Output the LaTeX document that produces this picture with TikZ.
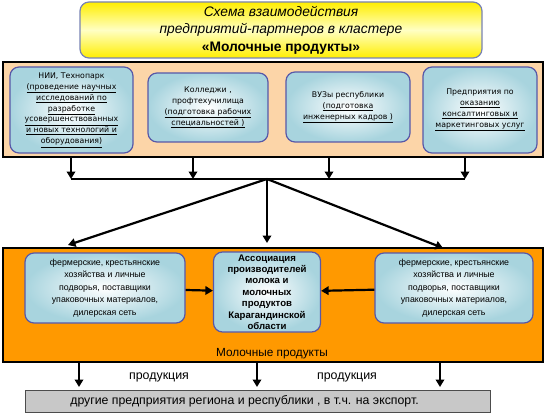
\documentclass[tikz,border=0pt]{standalone}
\usepackage{fontspec}
\setmainfont{Liberation Sans}
\newfontfamily\tahomaish{DejaVu Sans}
\usetikzlibrary{arrows.meta}

\definecolor{peach}{RGB}{252,213,168}
\definecolor{milkorange}{RGB}{255,153,0}
\definecolor{boxblue}{RGB}{88,88,168}
\definecolor{boxcyan}{RGB}{168,212,222}
\definecolor{titleyellow}{RGB}{255,238,0}
\definecolor{titlelight}{RGB}{255,255,196}
\definecolor{titleedge}{RGB}{120,130,180}
\definecolor{exportgray}{RGB}{200,200,200}

\tikzset{
  partner/.style={draw=boxblue, line width=1.2pt, rounded corners=9pt,
    inner color=white, outer color=boxcyan, align=center, inner sep=2pt},
  frame/.style={draw=black, line width=2pt},
  flow/.style={-{Triangle[width=8.5pt,length=7.5pt]}, line width=2.2pt},
  small/.style={font=\tahomaish\fontsize{7.8}{10.9}\selectfont},
  middle/.style={font=\fontsize{8.8}{12.6}\selectfont}
}

\begin{document}
\begin{tikzpicture}[x=1pt, y=-1pt]
  \useasboundingbox (0,0) rectangle (545,414);

  % Title
  \node[draw=titleedge, line width=1.2pt, rounded corners=9pt,
        top color=titleyellow, bottom color=titleyellow, middle color=titlelight,
        minimum width=402pt, minimum height=56pt, align=center,
        font=\fontsize{13.8}{17.6}\selectfont] (title) at (281,30)
    {\textit{Схема взаимодействия}\\ \textit{предприятий-партнеров в кластере}\\ \textbf{«Молочные продукты»}};

  % Partner frame
  \node[frame, fill=peach, minimum width=540pt, minimum height=95pt] (top) at (273,109.5) {};
  \node[partner, small, minimum width=123pt, minimum height=86pt] (nii) at (71.5,110)
    {НИИ, Технопарк\\ \underline{(проведение научных}\\ \underline{исследований по}\\ \underline{разработке}\\
     \underline{усовершенствованных}\\ \underline{и новых технологий и}\\ \underline{оборудования)}};
  \node[partner, small, minimum width=120pt, minimum height=69pt] (college) at (208,107.5)
    {Колледжи ,\\ профтехучилища\\ \underline{(подготовка рабочих}\\ \underline{специальностей )}};
  \node[partner, small, minimum width=124pt, minimum height=70pt] (vuz) at (348,107)
    {ВУЗы республики\\ \underline{(подготовка}\\ \underline{инженерных кадров )}};
  \node[partner, small, minimum width=114pt, minimum height=86pt] (consult) at (480,110)
    {Предприятия по\\ \underline{оказанию}\\ \underline{консалтинговых и}\\ \underline{маркетинговых услуг}};

  % Collector bar
  \coordinate (j1) at (71,179);
  \coordinate (j2) at (193,179);
  \coordinate (j3) at (329,179);
  \coordinate (j4) at (465,179);
  \coordinate (hub) at (267,179);
  \foreach \j in {j1,j2,j3,j4}
    \draw[flow] (top.south -| \j) -- (\j);
  \draw[line width=2.2pt] (j1) -- (j4);

  % Cluster frame
  \node[frame, fill=milkorange, minimum width=540pt, minimum height=114pt] (cluster) at (273,305) {};
  \node[partner, middle, minimum width=160pt, minimum height=70pt] (farmL) at (105,288)
    {фермерские, крестьянские\\ хозяйства и личные\\ подворья, поставщики\\ упаковочных материалов,\\ дилерская сеть};
  \node[partner, minimum width=107pt, minimum height=80pt,
        font=\fontsize{9.6}{11.4}\selectfont\bfseries] (assoc) at (267,292)
    {Ассоциация\\ производителей\\ молока и\\ молочных\\ продуктов\\ Карагандинской\\ области};
  \node[partner, middle, minimum width=158pt, minimum height=70pt] (farmR) at (454,288)
    {фермерские, крестьянские\\ хозяйства и личные\\ подворья, поставщики\\ упаковочных материалов,\\ дилерская сеть};
  \node[font=\fontsize{11.8}{13}\selectfont] (milk) at (272,354) {Молочные продукты};

  % Hub arrows
  \draw[flow] (hub) -- (68,245);
  \draw[flow] (hub) -- (267,243);
  \draw[flow] (hub) -- (443,248);
  \draw[flow] (farmL) -- (assoc);
  \draw[flow] (farmR) -- (assoc);

  % Output
  \node[draw=black!70, line width=1pt, fill=exportgray, minimum width=465pt, minimum height=22pt,
        font=\fontsize{12.3}{13}\selectfont] (export) at (257.5,401)
    {другие предприятия региона и республики , в т.ч. на экспорт.\hspace*{26pt}};
  \foreach \x in {79,257,440}
    \draw[flow] (\x,362) -- (\x,387);
  \node[font=\fontsize{12.4}{13}\selectfont] (prod1) at (159,377) {продукция};
  \node[font=\fontsize{12.4}{13}\selectfont] (prod2) at (347,377) {продукция};
\end{tikzpicture}
\end{document}
